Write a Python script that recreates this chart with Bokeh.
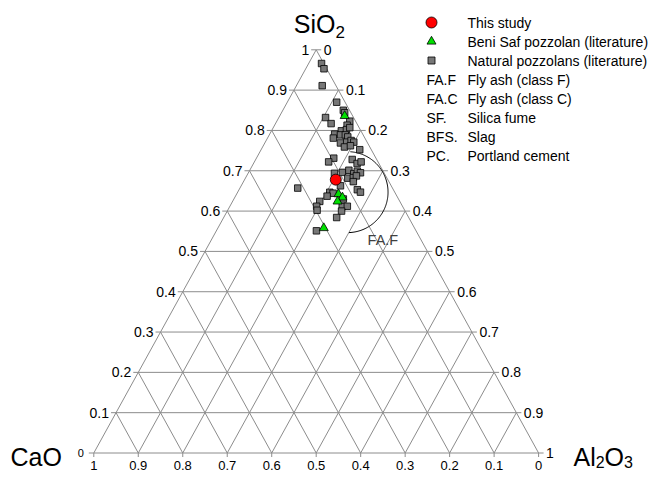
import numpy as np
from bokeh.plotting import figure
from bokeh.models import Range1d
from bokeh.core.properties import value
from bokeh.embed import file_html
from bokeh.resources import INLINE

# ---------------- data (mass fractions: SiO2, Al2O3, CaO) ----------------
this_sio2 = [0.678]
this_al2o3 = [0.205]
this_cao = [0.117]

beni_sio2 = [0.836, 0.642, 0.634, 0.624, 0.558]
beni_al2o3 = [0.146, 0.229, 0.242, 0.236, 0.238]
beni_cao = [0.018, 0.129, 0.124, 0.140, 0.204]

nat_sio2 = [0.966, 0.953, 0.911, 0.870, 0.850, 0.844, 0.832, 0.823, 0.817, 0.813,
            0.799, 0.802, 0.807, 0.791, 0.789, 0.789, 0.784, 0.781, 0.769, 0.771,
            0.775, 0.771, 0.759, 0.762, 0.753, 0.732, 0.722, 0.728, 0.718, 0.722,
            0.696, 0.702, 0.693, 0.699, 0.695, 0.681, 0.683, 0.688, 0.673, 0.662,
            0.657, 0.653, 0.647, 0.646, 0.645, 0.637, 0.630, 0.624, 0.612, 0.602,
            0.611, 0.612, 0.600, 0.584, 0.551, 0.693]
nat_al2o3 = [0.029, 0.041, 0.058, 0.111, 0.136, 0.142, 0.105, 0.164, 0.125, 0.163,
             0.157, 0.167, 0.172, 0.146, 0.160, 0.171, 0.179, 0.148, 0.170, 0.183,
             0.191, 0.199, 0.184, 0.196, 0.222, 0.174, 0.167, 0.217, 0.233, 0.240,
             0.211, 0.223, 0.238, 0.243, 0.252, 0.230, 0.242, 0.247, 0.247, 0.223,
             0.130, 0.266, 0.276, 0.207, 0.216, 0.206, 0.246, 0.196, 0.195, 0.201,
             0.253, 0.264, 0.257, 0.254, 0.225, 0.194]
nat_cao = [0.005, 0.006, 0.031, 0.019, 0.014, 0.014, 0.063, 0.013, 0.058, 0.024,
           0.044, 0.031, 0.021, 0.063, 0.051, 0.040, 0.037, 0.071, 0.061, 0.046,
           0.034, 0.030, 0.057, 0.042, 0.026, 0.095, 0.111, 0.055, 0.049, 0.038,
           0.093, 0.076, 0.069, 0.058, 0.053, 0.088, 0.075, 0.066, 0.080, 0.114,
           0.213, 0.081, 0.077, 0.146, 0.140, 0.157, 0.124, 0.180, 0.193, 0.197,
           0.136, 0.124, 0.143, 0.162, 0.224, 0.112]

tick_values = [0.0, 0.1, 0.2, 0.3, 0.4, 0.5, 0.6, 0.7, 0.8, 0.9, 1.0]
tick_labels = ["0", "0.1", "0.2", "0.3", "0.4", "0.5", "0.6", "0.7", "0.8", "0.9", "1"]

# FA.F zone (circle arc), centre in ternary fractions
faf_sio2 = 0.647
faf_al2o3 = 0.247
faf_radius = 0.091          # fraction of the triangle side
faf_start_deg = -88.0
faf_end_deg = 86.0
faf_label_sio2 = 0.528
faf_label_al2o3 = 0.386

legend_marker_labels = ["This study", "Beni Saf pozzolan (literature)",
                        "Natural pozzolans (literature)"]
legend_abbr = ["FA.F", "FA.C", "SF.", "BFS.", "PC."]
legend_abbr_text = ["Fly ash (class F)", "Fly ash (class C)", "Silica fume",
                    "Slag", "Portland cement"]

# ---------------- layout ----------------
FONT = value("Liberation Sans")
GRID = "#8c8c8c"
X0, W = 93.3, 444.8      # left vertex x, side length (px)
Y0, H = 452.5, 403.2     # base y, triangle height (px)


def norm(s, a, c):
    s, a, c = np.asarray(s, float), np.asarray(a, float), np.asarray(c, float)
    t = s + a + c
    return s / t, a / t


def tern(s, a):
    s = np.asarray(s, float)
    a = np.asarray(a, float)
    return X0 + W * (a + s / 2.0), Y0 - H * s


p = figure(width=649, height=472, x_range=Range1d(0, 649), y_range=Range1d(472, 0),
           output_backend="svg", toolbar_location=None, min_border=0,
           x_axis_type=None, y_axis_type=None)
p.outline_line_color = None
p.xgrid.visible = False
p.ygrid.visible = False
p.background_fill_color = "white"

# ---------------- grid ----------------
xs, ys = [], []
for v in tick_values[:-1]:
    xa, ya = tern(v, 0.0)
    xb, yb = tern(v, 1.0 - v)
    xs.append([float(xa), float(xb)]); ys.append([float(ya), float(yb)])
    xa, ya = tern(0.0, v)
    xb, yb = tern(1.0 - v, v)
    xs.append([float(xa), float(xb)]); ys.append([float(ya), float(yb)])
    xa, ya = tern(0.0, 1.0 - v)
    xb, yb = tern(1.0 - v, 0.0)
    xs.append([float(xa), float(xb)]); ys.append([float(ya), float(yb)])
p.multi_line(xs=xs, ys=ys, line_color=GRID, line_width=1)

# ---------------- ticks & labels ----------------
tv = np.array(tick_values)
# left side: SiO2
lx, ly = tern(tv, np.zeros_like(tv))
p.segment(x0=lx - 5, y0=ly, x1=lx, y1=ly, line_color=GRID, line_width=1)
loff = np.where(tv == 0, 10.0, 7.0)
p.text(x=lx[1:] - loff[1:], y=ly[1:], text=tick_labels[1:], text_font=FONT,
       text_font_size="14px", text_align="right", text_baseline="middle", text_color="black")
p.text(x=lx[:1] - loff[:1], y=ly[:1], text=tick_labels[:1], text_font=FONT,
       text_font_size="11px", text_align="right", text_baseline="middle", text_color="black")
# right side: Al2O3
rx, ry = tern(1.0 - tv, tv)
p.segment(x0=rx, y0=ry, x1=rx + 5, y1=ry, line_color=GRID, line_width=1)
p.text(x=rx + 7.5, y=ry, text=tick_labels, text_font=FONT, text_font_size="14px",
       text_align="left", text_baseline="middle", text_color="black")
# bottom: CaO
bx, by = tern(np.zeros_like(tv), 1.0 - tv)
p.segment(x0=bx, y0=by, x1=bx, y1=by + 4, line_color=GRID, line_width=1)
p.text(x=bx, y=by + 12, text=tick_labels, text_font=FONT, text_font_size="13px",
       text_align="center", text_baseline="middle", text_color="black")

# ---------------- apex titles ----------------
def title(parts, x, y, main=25, sub=17, drop=7.0):
    cx = x
    for txt, is_sub in parts:
        size = sub if is_sub else main
        p.text(x=[cx], y=[y + (drop if is_sub else 0)], text=[txt], text_font=FONT,
               text_font_size=f"{size}px", text_align="left",
               text_baseline="middle", text_color="black")
        w = sum({"S": .667, "i": .222, "O": .778, "C": .722, "a": .556,
                 "A": .667, "l": .222}.get(ch, .556) for ch in txt)
        cx += w * size

title([("SiO", False), ("2", True)], 293.3, 23.7, drop=7.7)
title([("CaO", False)], 10.0, 456.0)
title([("Al", False), ("2", True), ("O", False), ("3", True)], 573.0, 456.0,
      sub=16, drop=5.5)

# ---------------- FA.F zone ----------------
cx, cy = tern(faf_sio2, faf_al2o3)
th = np.radians(np.linspace(faf_start_deg, faf_end_deg, 120))
r = faf_radius * W
p.line(x=cx + r * np.cos(th), y=cy - r * np.sin(th), line_color="black", line_width=1)
fx, fy = tern(faf_label_sio2, faf_label_al2o3)
p.text(x=[fx], y=[fy], text=["FA.F"], text_font=FONT, text_font_size="14.5px",
       text_align="center", text_baseline="middle", text_color="#404040")

# ---------------- data points ----------------
s, a = norm(nat_sio2, nat_al2o3, nat_cao)
x, y = tern(s, a)
p.scatter(x=x, y=y, marker="square", size=6.5, fill_color="#777777",
          line_color="black", line_width=0.8)
s, a = norm(beni_sio2, beni_al2o3, beni_cao)
x, y = tern(s, a)
p.scatter(x=x, y=y, marker="triangle", size=9, fill_color="#00e000",
          line_color="black", line_width=0.8)
s, a = norm(this_sio2, this_al2o3, this_cao)
x, y = tern(s, a)
p.scatter(x=x, y=y, marker="circle", size=11, fill_color="#ff0000",
          line_color="black", line_width=0.8)

# ---------------- legend ----------------
LX_MARK, LX_ABBR, LX_TEXT = 431.0, 426.0, 467.0
LY0, LDY = 22.0, 19.0
rows = LY0 + LDY * np.arange(len(legend_marker_labels) + len(legend_abbr))
p.scatter(x=[LX_MARK], y=[rows[0]], marker="circle", size=11, fill_color="#ff0000",
          line_color="black", line_width=0.8)
p.scatter(x=[LX_MARK], y=[rows[1]], marker="triangle", size=9, fill_color="#00e000",
          line_color="black", line_width=0.8)
p.scatter(x=[LX_MARK], y=[rows[2]], marker="square", size=7, fill_color="#777777",
          line_color="black", line_width=0.8)
p.text(x=[LX_TEXT] * len(rows), y=rows, text=legend_marker_labels + legend_abbr_text,
       text_font=FONT, text_font_size="14px", text_align="left",
       text_baseline="middle", text_color="black")
p.text(x=[LX_ABBR] * len(legend_abbr), y=rows[3:], text=legend_abbr,
       text_font=FONT, text_font_size="14px", text_align="left",
       text_baseline="middle", text_color="black")

open("out.html", "w").write(file_html(p, INLINE))
